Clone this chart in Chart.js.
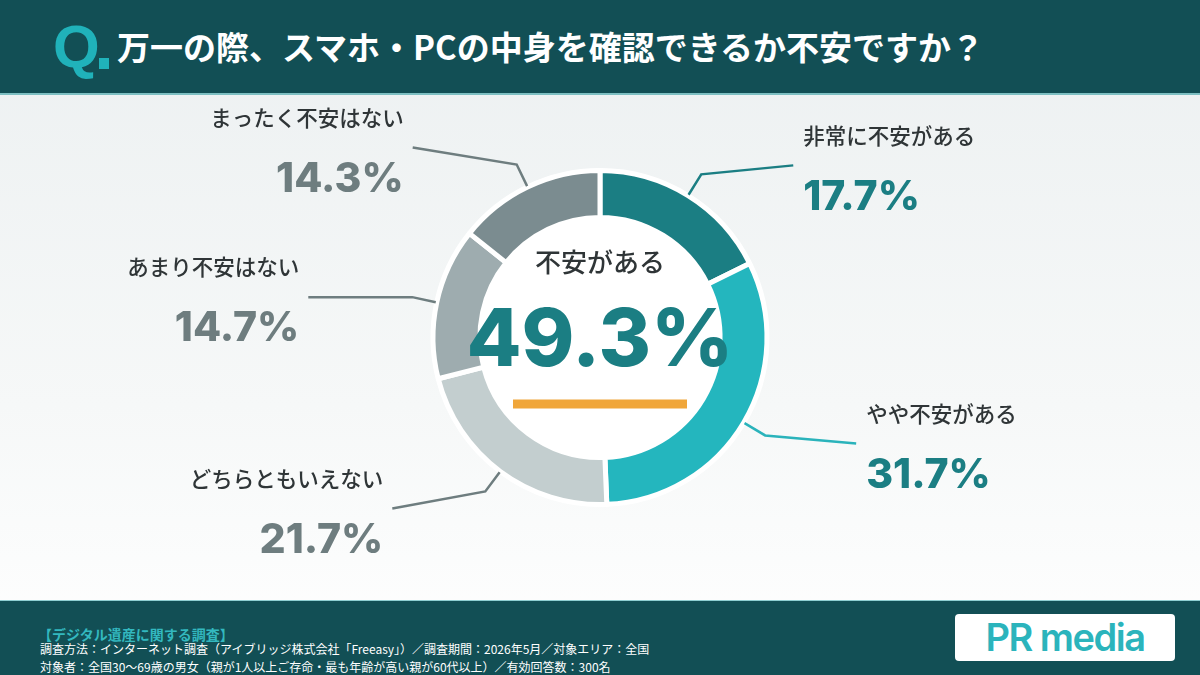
<!DOCTYPE html>
<html lang="ja">
<head>
<meta charset="utf-8">
<title>万一の際、スマホ・PCの中身を確認できるか不安ですか？</title>
<script src="https://cdn.jsdelivr.net/npm/chart.js@4.4.1/dist/chart.umd.min.js"></script>
<style>
  html, body { margin: 0; padding: 0; }
  body { width: 1200px; height: 675px; overflow: hidden; font-family: "Noto Sans CJK JP", sans-serif; }
  #page { position: relative; width: 1200px; height: 675px; background: linear-gradient(#ecf0f1 0%, #f6f8f8 60%, #ffffff 100%); }
  #chart { position: absolute; left: 0; top: 0; }
  header { position: absolute; left: 0; top: 0; width: 1200px; height: 93px; background: #124f55; border-bottom: 2px solid #7dbfc2; }
  .q { position: absolute; left: 53px; top: 7px; font-family: "Liberation Sans", Arial, sans-serif; font-weight: 700; font-size: 60px; color: #20b2ba; line-height: 80px; }
  .q-dot { position: absolute; left: 99px; top: 58px; width: 10px; height: 11px; background: #20b2ba; }
  h1 { position: absolute; left: 117px; top: 0; margin: 0; line-height: 93px; font-size: 33px; font-weight: 700; color: #ffffff; white-space: nowrap; }
  footer { position: absolute; left: 0; top: 600px; width: 1200px; height: 75px; background: #124f55; border-top: 1px solid #8fcfd2; }
  .f1 { position: absolute; left: 38px; top: 23px; font-size: 14px; font-weight: 700; color: #33b8bf; white-space: nowrap; }
  .f2, .f3 { position: absolute; left: 40px; font-size: 12px; color: #ffffff; white-space: nowrap; }
  .f2 { top: 39px; }
  .f3 { top: 57px; }
  .logo { position: absolute; left: 955px; top: 13px; width: 220px; height: 47px; background: #ffffff; border-radius: 4px; text-align: center; font-family: "Inter", "Noto Sans", sans-serif; font-weight: 600; font-size: 38px; line-height: 46px; letter-spacing: -1.5px; color: #2bb4bc; }
</style>
</head>
<body>
<div id="page">
  <canvas id="chart" width="1200" height="675"></canvas>
  <header>
    <span class="q">Q</span><span class="q-dot"></span>
    <h1>万一の際、スマホ・PCの中身を確認できるか不安ですか？</h1>
  </header>
  <footer>
    <div class="f1">【デジタル遺産に関する調査】</div>
    <div class="f2">調査方法：インターネット調査（アイブリッジ株式会社「Freeasy」）／調査期間：2026年5月／対象エリア：全国</div>
    <div class="f3">対象者：全国30〜69歳の男女（親が1人以上ご存命・最も年齢が高い親が60代以上）／有効回答数：300名</div>
    <div class="logo">PR media</div>
  </footer>
</div>
<script>
// answers, clockwise from 12 o'clock
const categories = ["非常に不安がある", "やや不安がある", "どちらともいえない", "あまり不安はない", "まったく不安はない"];
const shares = [17.7, 31.7, 21.7, 14.7, 14.3];
const centerLabel = "不安がある";
const concernedShare = 49.3;

const segmentColors = ["#1b7e83", "#24b6be", "#c3cecf", "#9eacaf", "#7b8c90"];
const lineColors = ["#1b7e83", "#2ab3bb", "#6e7d7f", "#6e7d7f", "#6e7d7f"];
const valueColors = ["#1b7e83", "#1b7e83", "#6e7d7f", "#6e7d7f", "#6e7d7f"];

// leader line tail: horizontal length (signed) and vertical drift
const leaderTails = [[92, -9], [91, 8], [-93, 17], [-104, 0], [-104, -17]];

const leaderPlugin = {
  id: "leaders",
  beforeDatasetsDraw(chart) {
    const arc = chart.getDatasetMeta(0).data[0];
    if (!arc) return;
    const ctx = chart.ctx;
    ctx.save();
    ctx.fillStyle = "#ffffff";
    ctx.beginPath();
    ctx.arc(arc.x, arc.y, arc.outerRadius + 2, 0, Math.PI * 2);
    ctx.fill();
    ctx.restore();
  },
  afterDraw(chart) {
    const ctx = chart.ctx;
    const arcs = chart.getDatasetMeta(0).data;
    ctx.save();
    arcs.forEach((arc, i) => {
      const mid = (arc.startAngle + arc.endAngle) / 2;
      const cx = arc.x, cy = arc.y;
      const r0 = arc.outerRadius + 1;
      const r1 = arc.outerRadius + 25;
      const x0 = cx + Math.cos(mid) * r0, y0 = cy + Math.sin(mid) * r0;
      const x1 = cx + Math.cos(mid) * r1, y1 = cy + Math.sin(mid) * r1;
      const x2 = x1 + leaderTails[i][0], y2 = y1 + leaderTails[i][1];

      ctx.strokeStyle = lineColors[i];
      ctx.lineWidth = 2.5;
      ctx.lineJoin = "miter";
      ctx.beginPath();
      ctx.moveTo(x0, y0);
      ctx.lineTo(x1, y1);
      ctx.lineTo(x2, y2);
      ctx.stroke();

      const right = leaderTails[i][0] > 0;
      const tx = right ? x2 + 10 : x2 - 9;
      ctx.textAlign = right ? "left" : "right";
      ctx.textBaseline = "middle";
      ctx.fillStyle = "#2f3537";
      ctx.font = "500 21.5px 'Noto Sans CJK JP'";
      ctx.fillText(categories[i], tx, y2 - 30);
      ctx.fillStyle = valueColors[i];
      ctx.font = "800 41px Inter";
      ctx.fillText(shares[i].toFixed(1) + "%", tx, y2 + 32);
    });

    const a = arcs[0];
    ctx.textAlign = "center";
    ctx.textBaseline = "middle";
    ctx.fillStyle = "#2f3537";
    ctx.font = "500 26px 'Noto Sans CJK JP'";
    ctx.fillText(centerLabel, a.x, a.y - 75);
    ctx.fillStyle = "#1b7e83";
    ctx.font = "800 80px Inter";
    ctx.fillText(concernedShare.toFixed(1) + "%", a.x, a.y + 4);
    ctx.fillStyle = "#f0a63a";
    ctx.fillRect(a.x - 87, a.y + 62, 174, 9);
    ctx.restore();
  }
};

new Chart(document.getElementById("chart"), {
  type: "doughnut",
  data: {
    labels: categories,
    datasets: [{
      data: shares,
      backgroundColor: segmentColors,
      borderColor: "#ffffff",
      borderWidth: 5,
      hoverOffset: 0
    }]
  },
  options: {
    responsive: false,
    animation: false,
    radius: 167,
    cutout: "71.9%",
    rotation: 0,
    layout: { padding: 0 },
    plugins: {
      legend: { display: false },
      tooltip: { enabled: false }
    }
  },
  plugins: [leaderPlugin]
});
</script>
</body>
</html>
